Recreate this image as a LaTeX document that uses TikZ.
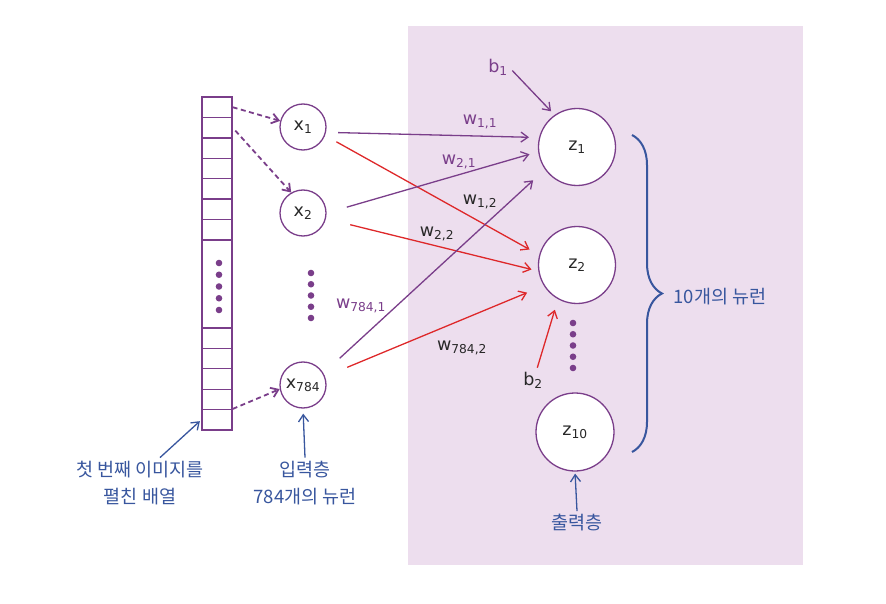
\documentclass[tikz,border=0pt]{standalone}
\usepackage{fontspec}
\setmainfont{DejaVu Sans}
\newfontfamily\krfont{Noto Sans CJK KR}
\usetikzlibrary{arrows.meta,positioning,decorations.pathreplacing}
\definecolor{wpur}{RGB}{122,62,138}
\definecolor{wred}{RGB}{222,40,42}
\definecolor{nblue}{RGB}{56,86,158}
\definecolor{bgpink}{RGB}{237,222,238}
\definecolor{txt}{RGB}{40,40,40}

\begin{document}
\begin{tikzpicture}[x=1pt, y=-1pt,
  neuron/.style={draw=wpur, circle, fill=white, line width=1.3pt, inner sep=0pt,
    font=\fontsize{17.5}{20}\selectfont, text=txt},
  cell/.style={draw=wpur, line width=1.3pt, minimum width=30pt,
    minimum height=20.4pt, inner sep=0pt},
  lbl/.style={font=\fontsize{17.5}{20}\selectfont, inner sep=1pt},
  note/.style={font=\krfont\fontsize{18.5}{27}\selectfont, text=nblue, align=center},
  arr/.style={-{Straight Barb[length=7pt,width=10pt]}, line width=1.3pt},
  dasharr/.style={arr, wpur, line width=1.8pt, dash pattern=on 5pt off 3.5pt}]
\useasboundingbox (0,0) rectangle (886,604);
\fill[bgpink] (408,26) rectangle (803,565);

% flattened image
\foreach \i in {1,...,7}
  \node[cell] (t\i) at (217,{97+20.43*(\i-0.5)}) {};
\node[cell, minimum height=88pt] (mid) at (217,284) {};
\foreach \i in {1,...,5}
  \node[cell] (u\i) at (217,{328+20.4*(\i-0.5)}) {};
\foreach \k in {0,...,4}
  \fill[wpur] (219,{263+11.75*\k}) circle (3.3pt);

% input and output layers
\node[neuron, minimum size=46pt] (x1) at (303,127) {x\textsubscript{1}};
\node[neuron, minimum size=46pt] (x2) at (303,213) {x\textsubscript{2}};
\node[neuron, minimum size=46pt] (x784) at (303,385) {x\textsubscript{784}};
\node[neuron, minimum size=77pt] (z1) at (577,147) {z\textsubscript{1}};
\node[neuron, minimum size=77pt] (z2) at (577,265) {z\textsubscript{2}};
\node[neuron, minimum size=78pt] (z10) at (575,432) {z\textsubscript{10}};
\foreach \k in {0,...,4} {
  \fill[wpur] (311,{273+11.25*\k}) circle (3.3pt);
  \fill[wpur] (573,{323+11.25*\k}) circle (3.3pt);
}

\draw[dasharr] (t1.east) -- (x1.165);
\draw[dasharr, shorten <=4pt] (t2.east) -- (x2.120);
\draw[dasharr] (u5.north east) -- (x784.190);

% weights
\foreach \a/\sa/\b/\ea/\col/\s/\e in {
  x1/-13/z1/166/wpur/12pt/10pt, x1/-21/z2/165/wred/13pt/11pt,
  x2/0/z1/187/wpur/21pt/9pt, x2/-14/z2/189/wred/25pt/7pt,
  x784/30/z1/215/wpur/22pt/16pt, x784/21/z2/212/wred/24pt/18pt}
  \draw[arr, color=\col, shorten <=\s, shorten >=\e] (\a.\sa) -- (\b.\ea);

\node[lbl, text=wpur] (w11) at (480,122) {w\textsubscript{1,1}};
\node[lbl, text=wpur] (w21) at (459,162) {w\textsubscript{2,1}};
\node[lbl, text=txt] (w12) at (480,202) {w\textsubscript{1,2}};
\node[lbl, text=txt] (w22) at (437,234) {w\textsubscript{2,2}};
\node[lbl, text=wpur] (w7841) at (361,306) {w\textsubscript{784,1}};
\node[lbl, text=txt] (w7842) at (462,348) {w\textsubscript{784,2}};

% biases
\node[lbl, text=wpur] (b1) at (498,67) {b\textsubscript{1}};
\node[lbl, text=txt] (b2) at (533,380) {b\textsubscript{2}};
\draw[arr, wpur, shorten <=5pt, shorten >=5pt] (b1.east) -- (z1.125);
\draw[arr, wred, shorten <=3pt, shorten >=11pt] (b2.70) -- (z2.241);

% notes
\draw[nblue, line width=2pt, decorate, decoration={brace, amplitude=30pt}]
  (632,135) -- (632,452);
\node[note] (tennote) at (720,297) {10개의 뉴런};
\node[note] (arrnote) at (140,483) {첫 번째 이미지를\\펼친 배열};
\node[note] (innote) at (305,483) {입력층\\784개의 뉴런};
\node[note] (outnote) at (577,523) {출력층};
\draw[arr, nblue, shorten >=2pt] ([xshift=20pt]arrnote.north) -- (u5.west);
\draw[arr, nblue, shorten >=5pt] (innote.north) -- (x784.south);
\draw[arr, nblue, shorten >=2pt] (outnote.north) -- (z10.south);
\end{tikzpicture}
\end{document}
